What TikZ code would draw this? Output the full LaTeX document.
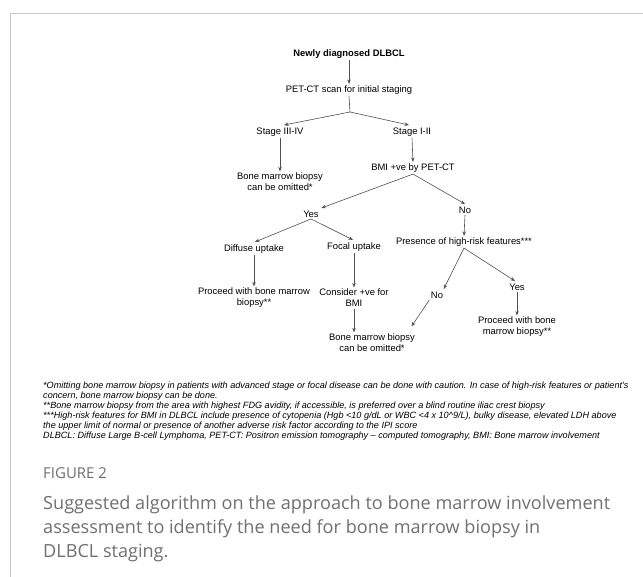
\documentclass[tikz,border=0pt]{standalone}
\usepackage{fontspec}
\newfontfamily\arialf{Liberation Sans}
\newfontfamily\opensansf{Open Sans}
\usetikzlibrary{arrows.meta,calc}
\definecolor{capgray}{HTML}{707070}
\definecolor{framegray}{HTML}{C8C8C8}
\definecolor{linegray}{HTML}{505050}
\begin{document}
\begin{tikzpicture}[x=1pt,y=-1pt,
  txt/.style={font=\arialf\fontsize{9.4}{11}\selectfont, align=center, inner sep=1.5pt, text=black},
  arr/.style={draw=linegray, line width=0.6pt, -{Stealth[length=4.5pt,width=3.5pt]}},
  ln/.style={draw=linegray, line width=0.6pt}]
\useasboundingbox (0,0) rectangle (643,577);
\fill[white] (0,0) rectangle (643,577);
\draw[framegray, line width=0.9pt] (10,577) -- (10,13) -- (643,13);

% nodes
\node[txt, font=\arialf\bfseries\fontsize{9.4}{11}\selectfont] (n1) at (349,54) {Newly diagnosed DLBCL};
\node[txt] (n2) at (349,90) {PET-CT scan for initial staging};
\coordinate (j1) at (350,112);
\node[txt] (s34) at (280,132) {Stage III-IV};
\node[txt] (s12) at (412,132) {Stage I-II};
\node[txt] (bm1) at (280,182) {Bone marrow biopsy\\can be omitted*};
\node[txt] (bmi) at (413,168) {BMI +ve by PET-CT};
\node[txt] (yes1) at (311,214) {Yes};
\node[txt] (no1) at (465,210) {No};
\node[txt] (diff) at (254,249) {Diffuse uptake};
\node[txt] (foc) at (354,247) {Focal uptake};
\node[txt] (pres) at (464,242) {Presence of high-risk features***};
\node[txt] (proc1) at (254,298) {Proceed with bone marrow\\biopsy**};
\node[txt] (cons) at (354,298) {Consider +ve for\\BMI};
\node[txt] (no2) at (437,295) {No};
\node[txt] (yes2) at (517,287) {Yes};
\node[txt] (proc2) at (517,327) {Proceed with bone\\marrow biopsy**};
\node[txt] (bm2) at (372,343) {Bone marrow biopsy\\can be omitted*};

% connectors
\draw[arr] (n1.south) -- (n2.north);
\draw[ln] (n2.south) -- (j1);
\draw[arr] (j1) -- ($(s34.north)+(4,-1)$);
\draw[arr] (j1) -- ($(s12.north)+(-3,-1)$);
\draw[arr] (s34.south) -- (bm1.north);
\draw[arr] (s12.south) -- (bmi.north);
\draw[arr] (bmi.south) -- ($(yes1.north east)+(1,-1)$);
\draw[arr] (bmi.south) -- ($(no1.north)+(0,-1)$);
\draw[arr] (yes1.south) -- ($(diff.north)+(1,-1)$);
\draw[arr] (yes1.south) -- ($(foc.north)+(-1,-1)$);
\draw[arr] (no1.south) -- (pres.north);
\draw[arr] (pres.south) -- ($(no2.north east)+(-1,-1)$);
\draw[arr] (pres.south) -- ($(yes2.north)+(-2,-1)$);
\draw[arr] (yes2.south) -- (proc2.north);
\draw[arr] (no2.south west) -- ($(bm2.north east)+(-5,-6)$);
\draw[arr] (diff.south) -- (proc1.north);
\draw[arr] (foc.south) -- (cons.north);
\draw[arr] (cons.south) -- (cons.south |- bm2.north);

% footnotes
\node[anchor=north west, align=left, inner sep=0pt, font=\arialf\itshape\fontsize{9.1}{9.9}\selectfont] (fn) at (43,382) {%
*Omitting bone marrow biopsy in patients with advanced stage or focal disease can be done with caution. In case of high-risk features or patient's\\
concern, bone marrow biopsy can be done.\\
**Bone marrow biopsy from the area with highest FDG avidity, if accessible, is preferred over a blind routine iliac crest biopsy\\
***High-risk features for BMI in DLBCL include presence of cytopenia (Hgb <10 g/dL or WBC <4 x 10\string^9/L), bulky disease, elevated LDH above\\
the upper limit of normal or presence of another adverse risk factor according to the IPI score\\
DLBCL: Diffuse Large B-cell Lymphoma, PET-CT: Positron emission tomography – computed tomography, BMI: Bone marrow involvement};

% caption
\node[anchor=west, inner sep=0pt, text=capgray, font=\opensansf\fontsize{15}{17}\selectfont] (fig) at (43,473) {FIGURE 2};
\node[anchor=north west, align=left, inner sep=0pt, text=capgray, font=\opensansf\fontsize{18.1}{24}\selectfont] (cap) at (43,496) {%
Suggested algorithm on the approach to bone marrow involvement\\
assessment to identify the need for bone marrow biopsy in\\
DLBCL staging.};
\end{tikzpicture}
\end{document}
